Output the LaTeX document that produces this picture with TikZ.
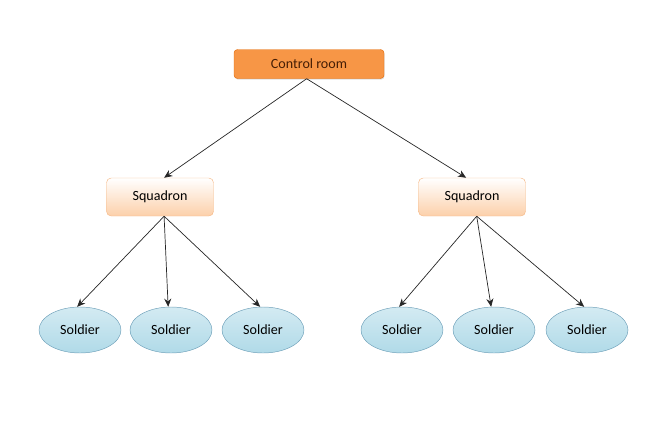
\documentclass[tikz,border=0pt]{standalone}
\usepackage{fontspec}
\setmainfont{Carlito}
\definecolor{ctrlorange}{RGB}{247, 150, 70}
\definecolor{ctrledge}{RGB}{228, 108, 10}
\definecolor{ctrltext}{RGB}{70, 30, 5}
\definecolor{sqpeach}{RGB}{252, 208, 170}
\definecolor{sqedge}{RGB}{245, 185, 135}
\definecolor{solblue}{RGB}{176, 218, 232}
\definecolor{soledge}{RGB}{110, 160, 185}
\usetikzlibrary{shapes, arrows.meta, positioning, shadows}

\begin{document}
\begin{tikzpicture}[x=0.03cm, y=-0.03cm,
  ctrlbox/.style={draw=ctrledge, fill=ctrlorange, rounded corners=3pt, minimum width=4.5cm, minimum height=0.87cm, text=ctrltext, font=\fontsize{12}{14}\selectfont, drop shadow={opacity=0.25, shadow xshift=0.5pt, shadow yshift=-1pt}},
  squadbox/.style={draw=sqedge, top color=white, bottom color=sqpeach, rounded corners=4pt, minimum width=3.21cm, minimum height=1.14cm, font=\fontsize{12}{14}\selectfont},
  soldier/.style={ellipse, draw=soledge, top color=solblue!55, bottom color=solblue, minimum width=2.46cm, minimum height=1.38cm, font=\fontsize{12}{14}\selectfont},
  link/.style={-{Stealth[length=7pt, width=6pt]}, black!85, line width=0.6pt}]
  \useasboundingbox (0,0) rectangle (653,421);

  \node[ctrlbox] (ctrl) at (309,64) {Control room};

  \node[squadbox] (sqL) at (160,197) {Squadron};
  \node[squadbox] (sqR) at (472,197) {Squadron};

  \node[soldier] (solA) at (80,330) {Soldier};
  \node[soldier] (solB) at (171,330) {Soldier};
  \node[soldier] (solC) at (263,330) {Soldier};
  \node[soldier] (solD) at (402,330) {Soldier};
  \node[soldier] (solE) at (494,330) {Soldier};
  \node[soldier] (solF) at (587,330) {Soldier};

  \draw[link] ([xshift=-2pt]ctrl.south) -- ([xshift=3.5pt]sqL.north);
  \draw[link] ([xshift=-2pt]ctrl.south) -- ([xshift=-5pt]sqR.north);

  \foreach \s in {solA, solB, solC}
    \draw[link] ([xshift=3.5pt]sqL.south) -- (\s.97);
  \foreach \s in {solD, solE, solF}
    \draw[link] ([xshift=4pt]sqR.south) -- (\s.97);
\end{tikzpicture}
\end{document}
